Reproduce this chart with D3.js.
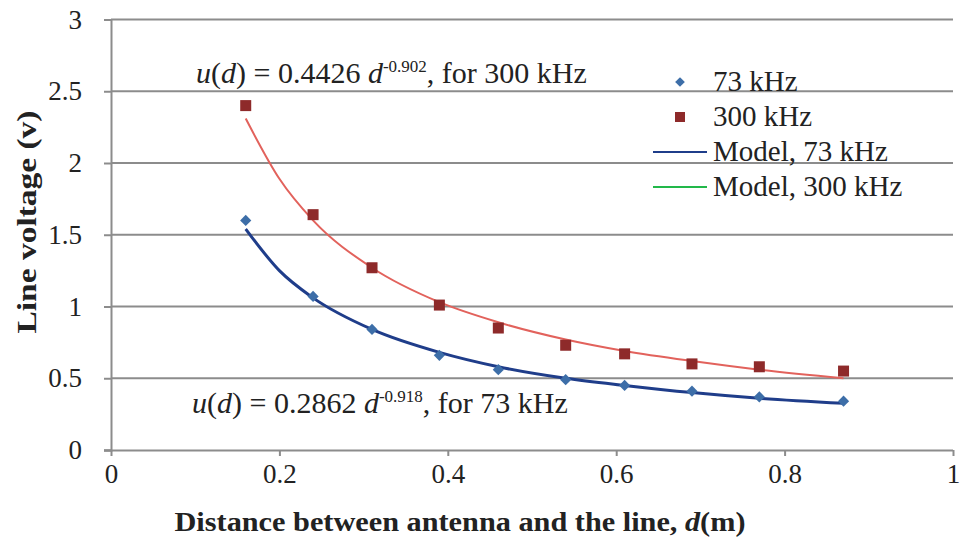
<!DOCTYPE html>
<html>
<head>
<meta charset="utf-8">
<script src="https://cdn.jsdelivr.net/npm/d3@7"></script>
<style>
  body { margin: 0; background: #fff; }
  svg text { font-family: "Liberation Serif", "Times New Roman", serif; fill: #222; }
</style>
</head>
<body>
<svg id="chart" width="963" height="551"></svg>
<script>
// measured points
const distance = [0.16, 0.24, 0.31, 0.39, 0.46, 0.54, 0.61, 0.69, 0.77, 0.87];
const volt73 = [1.60, 1.07, 0.84, 0.66, 0.56, 0.49, 0.45, 0.41, 0.37, 0.34];
const volt300 = [2.40, 1.64, 1.27, 1.01, 0.85, 0.73, 0.67, 0.60, 0.58, 0.55];

// model curves
const modelD = [0.16, 0.20, 0.24, 0.31, 0.39, 0.46, 0.54, 0.61, 0.69, 0.77, 0.87];
const model73 = [1.54, 1.25, 1.06, 0.84, 0.68, 0.58, 0.50, 0.45, 0.40, 0.36, 0.325];
const model300 = [2.31, 1.89, 1.60, 1.27, 1.03, 0.89, 0.77, 0.69, 0.62, 0.56, 0.50];

const xTicks = [0, 0.2, 0.4, 0.6, 0.8, 1];
const yTicks = [0, 0.5, 1, 1.5, 2, 2.5, 3];

const legendLabels = ["73 kHz", "300 kHz", "Model, 73 kHz", "Model, 300 kHz"];

const svg = d3.select("#chart");
const x = d3.scaleLinear().domain([0, 1]).range([111, 953]);
const y = d3.scaleLinear().domain([0, 3]).range([450, 19.5]);

const gridCol = "#8c8c8c";

// horizontal grid
svg.append("g").selectAll("line")
  .data(yTicks.slice(1))
  .join("line")
    .attr("x1", x(0)).attr("x2", x(1))
    .attr("y1", d => y(d)).attr("y2", d => y(d))
    .attr("stroke", gridCol).attr("stroke-width", 2);

// axes
const yAxis = svg.append("g")
  .attr("transform", `translate(${x(0)},0)`)
  .call(d3.axisLeft(y).tickValues(yTicks).tickFormat(d3.format("")).tickSize(7).tickPadding(22));
const xAxis = svg.append("g")
  .attr("transform", `translate(0,${y(0)})`)
  .call(d3.axisBottom(x).tickValues(xTicks).tickFormat(d3.format("")).tickSize(6).tickPadding(8));

[yAxis, xAxis].forEach(g => {
  g.select(".domain").attr("stroke", gridCol).attr("stroke-width", 2);
  g.selectAll(".tick line").attr("stroke", gridCol).attr("stroke-width", 2);
  g.selectAll(".tick text")
    .attr("font-family", null)
    .attr("font-size", 27).attr("fill", "#222");
});
xAxis.select(".domain").attr("d", `M${x(0) - 7},0.5H${x(1)}`);

// model lines
const line = d3.line()
  .x(d => x(d[0]))
  .y(d => y(d[1]))
  .curve(d3.curveMonotoneX);

svg.append("path")
  .attr("d", line(modelD.map((d, i) => [d, model300[i]])))
  .attr("fill", "none").attr("stroke", "#e2625c").attr("stroke-width", 2);
svg.append("path")
  .attr("d", line(modelD.map((d, i) => [d, model73[i]])))
  .attr("fill", "none").attr("stroke", "#1f3d8a").attr("stroke-width", 3);

// markers
const diamond = d3.symbol().type(d3.symbolDiamond2).size(80);
svg.append("g").selectAll("path")
  .data(distance)
  .join("path")
    .attr("d", diamond)
    .attr("transform", (d, i) => `translate(${x(d)},${y(volt73[i])})`)
    .attr("fill", "#3d6ea8");

svg.append("g").selectAll("rect")
  .data(distance)
  .join("rect")
    .attr("x", d => x(d) - 5.5)
    .attr("y", (d, i) => y(volt300[i]) - 5.5)
    .attr("width", 11).attr("height", 11)
    .attr("fill", "#8e2a2a");

// equations
function equation(xPos, yPos, coef, expo, tail) {
  const t = svg.append("text")
    .attr("x", xPos).attr("y", yPos)
    .attr("font-size", 30);
  t.append("tspan").attr("font-style", "italic").text("u");
  t.append("tspan").text("(");
  t.append("tspan").attr("font-style", "italic").text("d");
  t.append("tspan").text(") = " + coef + " ");
  t.append("tspan").attr("font-style", "italic").text("d");
  t.append("tspan").attr("font-size", 17).attr("dy", -11).text(expo);
  t.append("tspan").attr("dy", 11).text(",  " + tail);
}
equation(196, 83, "0.4426", "-0.902", "for 300 kHz");
equation(192, 413, "0.2862", "-0.918", "for 73 kHz");

// legend
const legendY = [82, 117, 152, 187];
const lg = svg.append("g");
legendLabels.forEach((label, i) => {
  const cy = legendY[i];
  if (i === 0) {
    lg.append("path").attr("d", d3.symbol().type(d3.symbolDiamond2).size(60)())
      .attr("transform", `translate(680,${cy})`).attr("fill", "#3d6ea8");
  } else if (i === 1) {
    lg.append("rect").attr("x", 675).attr("y", cy - 5).attr("width", 10).attr("height", 10).attr("fill", "#8e2a2a");
  } else {
    lg.append("line").attr("x1", 653).attr("x2", 707).attr("y1", cy).attr("y2", cy)
      .attr("stroke", i === 2 ? "#1f3d8a" : "#22b84a").attr("stroke-width", 2);
  }
  lg.append("text").attr("x", 713).attr("y", cy + 9).attr("font-size", 29).text(label);
});

// axis titles
svg.append("text")
  .attr("transform", "translate(36,222) rotate(-90)")
  .attr("text-anchor", "middle")
  .attr("font-size", 28).attr("font-weight", "bold")
  .attr("textLength", 223).attr("lengthAdjust", "spacingAndGlyphs")
  .text("Line voltage (v)");

const xt = svg.append("text")
  .attr("x", 460).attr("y", 531)
  .attr("text-anchor", "middle")
  .attr("font-size", 28).attr("font-weight", "bold")
  .attr("textLength", 571).attr("lengthAdjust", "spacingAndGlyphs");
xt.append("tspan").text("Distance between antenna and the line, ");
xt.append("tspan").attr("font-style", "italic").text("d");
xt.append("tspan").text("(m)");
</script>
</body>
</html>
